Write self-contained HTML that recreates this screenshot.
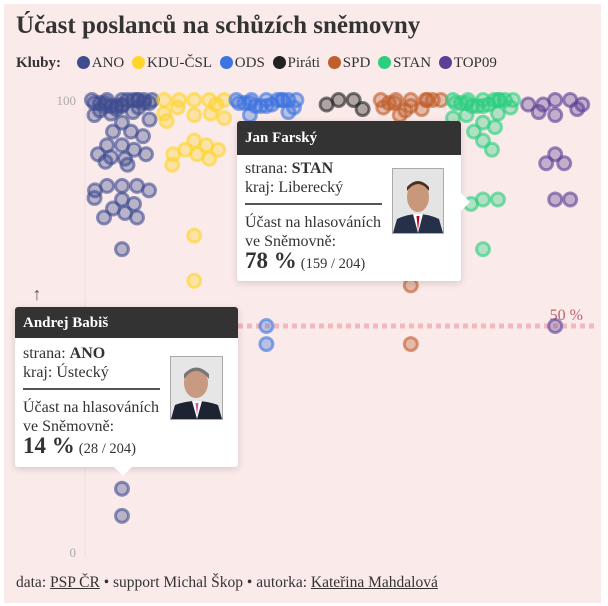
<!DOCTYPE html>
<html><head><meta charset="utf-8"><style>
body{margin:0;width:608px;height:606px;background:#fff;font-family:"Liberation Serif",serif;position:relative;overflow:hidden;color:#333}
#panel{position:absolute;left:4px;top:4px;width:597px;height:599px;background:#fbeaea}
h1{position:absolute;left:16px;top:12px;margin:0;font-size:25px;font-weight:bold;color:#333}
.leg{position:absolute;top:55px;left:16px;font-size:15px;white-space:nowrap}
.leg b{margin-right:12px}
.li{display:inline-block;margin-right:4px}
.li i{display:inline-block;width:13px;height:13px;border-radius:50%;vertical-align:-2px;margin-right:2px}
svg{position:absolute;left:0;top:0}
.tip{position:absolute;background:#fff;border-radius:3px;box-shadow:0 2px 8px rgba(0,0,0,.15);font-size:16px;line-height:19px}
.tip .hd{background:#333;color:#fff;font-weight:bold;padding:0 8px;border-radius:3px 3px 0 0;font-size:15px}
.tip .bd{padding:8px 8px}
.tip hr{border:0;border-top:2px solid #555;margin:6px 0 8px;width:137px;margin-left:0}
.big{font-size:23px;font-weight:bold}
.ph{position:absolute;border:1px solid #aaa;background:#e8e8e8;overflow:hidden}
.foot{position:absolute;left:16px;top:574px;font-size:15.5px}
.foot a{color:#333;text-decoration:underline}
</style></head><body>
<div id="panel"></div>
<h1>Účast poslanců na schůzích sněmovny</h1>
<div class="leg"><b>Kluby:</b>
<span class="li"><i style="background:#3f4d8f"></i>ANO</span>
<span class="li"><i style="background:#fdd52c"></i>KDU-ČSL</span>
<span class="li"><i style="background:#3e74e0"></i>ODS</span>
<span class="li"><i style="background:#222"></i>Piráti</span>
<span class="li"><i style="background:#c05f2d"></i>SPD</span>
<span class="li"><i style="background:#2ccf7e"></i>STAN</span>
<span class="li"><i style="background:#5b3f94"></i>TOP09</span>
</div>
<svg id="chart" width="608" height="606"></svg>

<div class="tip" style="left:237px;top:121px;width:224px;height:160px">
<div class="hd" style="height:34px;line-height:34px">Jan Farský</div>
<div class="bd" style="padding-top:4px">strana: <b>STAN</b><br>kraj: Liberecký<hr>Účast na hlasováních<br>ve Sněmovně:<br><span class="big">78 %</span> <span style="font-size:14.5px">(159 / 204)</span></div>
<div class="ph" style="left:155px;top:47px;width:50px;height:64px"><svg width="50" height="64"><rect width="50" height="64" fill="#e4e4e4"/><path d="M0 64 L4 50 Q25 40 46 50 L50 64Z" fill="#263048"/><path d="M20 45 L25 64 L30 45Z" fill="#fff"/><path d="M23.5 47 L25 62 L26.5 47Z" fill="#b02"/><ellipse cx="25" cy="28" rx="11" ry="15" fill="#c9987a"/><path d="M14 22 Q25 8 36 22 L36 18 Q25 6 14 18Z" fill="#4a3020"/></svg></div>
<div style="position:absolute;right:-9px;top:72px;width:0;height:0;border-top:9px solid transparent;border-bottom:9px solid transparent;border-left:9px solid #fff"></div>
</div>

<div class="tip" style="left:15px;top:307px;width:223px;height:160px">
<div class="hd" style="height:31px;line-height:33px">Andrej Babiš</div>
<div class="bd" style="padding-top:6px">strana: <b>ANO</b><br>kraj: Ústecký<hr>Účast na hlasováních<br>ve Sněmovně:<br><span class="big">14 %</span> <span style="font-size:14.5px">(28 / 204)</span></div>
<div class="ph" style="left:155px;top:49px;width:51px;height:62px"><svg width="51" height="62"><rect width="51" height="62" fill="#e6e6e6"/><path d="M0 62 L4 48 Q25 40 47 48 L51 62Z" fill="#1d2330"/><path d="M21 44 L26 62 L31 44Z" fill="#fff"/><path d="M24.5 46 L26 58 L27.5 46Z" fill="#d05a9a"/><ellipse cx="25" cy="26" rx="12" ry="15" fill="#c99a82"/><path d="M13 22 Q25 6 38 22 L38 17 Q25 4 13 17Z" fill="#777"/></svg></div>
<div style="position:absolute;left:98px;bottom:-9px;width:0;height:0;border-left:10px solid transparent;border-right:10px solid transparent;border-top:10px solid #fff"></div>
</div>

<div class="foot">data: <a>PSP ČR</a> • support Michal Škop • autorka: <a>Kateřina Mahdalová</a></div>

<script>
const parties = ["ANO","KDU-ČSL","ODS","Piráti","SPD","STAN","TOP09"];
const partyColors = ["#3f4d8f","#fdd52c","#3e74e0","#222222","#c05f2d","#2ccf7e","#5b3f94"];
const valsANO = [100,100,100,100,100,100,100,100,100,100,100,100,100,100,100,100,100,100,99,99,99,98,98,98,97,97,95,93,93,92,90,90,89,88,88,88,87,87,87,81,81,81,80,80,79,78,77,76,75,74,74,67,14,8];
const valsKDU = [100,100,100,100,100,99,99,98,97,97,96,96,91,90,89,89,88,88,87,87,70,60];
const valsODS = [100,100,100,100,100,100,100,100,100,100,100,100,100,100,99,99,98,98,50,46];
const valsPirati = [100,100,99,98];
const valsSPD = [100,100,100,100,100,100,100,100,100,100,99,99,98,98,59,46];
const valsSTAN = [100,100,100,100,100,100,100,100,100,100,100,100,100,100,99,99,98,97,96,95,94,93,91,89,78,78,77,67];
const valsTOP09 = [100,100,99,99,98,98,98,99,88,86,86,78,78,50];
const yTicks = [0,100];
const refLine = 50;

const allVals=[valsANO,valsKDU,valsODS,valsPirati,valsSPD,valsSTAN,valsTOP09];
const NS="http://www.w3.org/2000/svg";
const svg=document.getElementById('chart');
const y=v=>552-v*4.52;
const xCol=i=>122+i*72.2;
function mk(t,a){const e=document.createElementNS(NS,t);for(const k in a)e.setAttribute(k,a[k]);svg.appendChild(e);return e;}

const ax=mk('line',{x1:85,x2:85,y1:92,y2:556,stroke:'#eedede','stroke-width':1});


yTicks.forEach(t=>{
  const tx=mk('text',{x:76,y:y(t)+5,'text-anchor':'end','font-size':13,fill:'#aaa','font-family':'Liberation Serif, serif'});
  tx.textContent=t;
  
  
});
const arrow=mk('text',{x:37,y:300,'text-anchor':'middle','font-size':18,fill:'#555'});
arrow.textContent='↑';


const rl=mk('line',{x1:85,x2:595,y1:y(refLine),y2:y(refLine),stroke:'#f2b8bc','stroke-width':5,'stroke-dasharray':'5 4'});


const rlt=mk('text',{x:583,y:y(refLine)-6,'text-anchor':'end','font-size':16,fill:'#c0606a','font-family':'Liberation Serif, serif'});
rlt.textContent=refLine+' %';



const r=6.5, half=30, minD=12.5;
allVals.forEach((vals,pi)=>{
  const cx=xCol(pi);const placed=[];
  const sorted=vals.slice().sort((a,b)=>b-a);
  sorted.forEach((v,i)=>{
    let cy=y(v);let px=null;
    for(let k=0;k<=20;k++){
      const off=(k%2?1:-1)*Math.ceil(k/2)*3;
      if(Math.abs(off)>half)continue;
      const x=cx+off;
      if(placed.every(p=>Math.hypot(p[0]-x,p[1]-cy)>=minD)){px=x;break;}
    }
    if(px===null){px=cx+(((i*7)%11)-5)*5.5;cy+=((i*5)%3)*3;}
    placed.push([px,cy]);
    const c=mk('circle',{cx:px,cy:cy,r:r,fill:partyColors[pi],'fill-opacity':0.35,stroke:partyColors[pi],'stroke-opacity':0.6,'stroke-width':3});
    
    
  });
});
</script>
</body></html>
